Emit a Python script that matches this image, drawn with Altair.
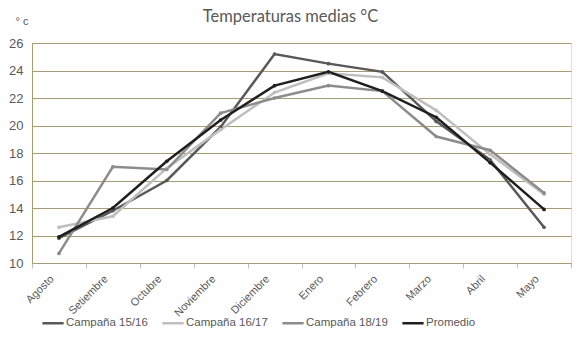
import altair as alt
import pandas as pd

meses = ["Agosto", "Setiembre", "Octubre", "Noviembre", "Diciembre",
         "Enero", "Febrero", "Marzo", "Abril", "Mayo"]
series = ["Campaña 15/16", "Campaña 16/17", "Campaña 18/19", "Promedio"]
c1516 = [11.8, 13.8, 16.0, 19.9, 25.2, 24.5, 23.9, 20.3, 17.5, 12.6]
c1617 = [12.6, 13.4, 16.9, 19.7, 22.4, 23.8, 23.5, 21.1, 17.9, 15.0]
c1819 = [10.7, 17.0, 16.8, 20.9, 22.0, 22.9, 22.5, 19.2, 18.2, 15.1]
prom = [11.9, 14.0, 17.4, 20.4, 22.9, 23.9, 22.5, 20.6, 17.3, 13.9]
colores = ["#595959", "#bfbfbf", "#8c8c8c", "#1f1f1f"]

rows = []
for s, vals in zip(series, [c1516, c1617, c1819, prom]):
    for m, v in zip(meses, vals):
        rows.append({"mes": m, "serie": s, "temp": v})
df = pd.DataFrame(rows)

grid = "#a99e6b"
txt = "#595959"

chart = alt.Chart(df).mark_line(
    strokeWidth=2.5,
    point=alt.OverlayMarkDef(size=14, filled=True)
).encode(
    x=alt.X("mes:N", sort=meses, bandPosition=0.5,
            scale=alt.Scale(type="band", paddingInner=0, paddingOuter=0),
            axis=alt.Axis(title=None, labelAngle=-45, labelAlign="right",
                          labelBaseline="middle", labelPadding=9,
                          labelOffset=-7,
                          tickBand="extent", ticks=True, tickSize=5,
                          tickColor="#bfbfbf", domainColor=grid,
                          labelColor=txt, labelFont="Liberation Sans",
                          labelFontSize=11, grid=False)),
    y=alt.Y("temp:Q",
            scale=alt.Scale(domain=[10, 26], nice=False, zero=False),
            axis=alt.Axis(values=list(range(10, 27, 2)), ticks=False,
                          labelPadding=9, labelColor=txt,
                          labelFont="Liberation Sans", labelFontSize=13,
                          gridColor=grid, gridWidth=1, domainColor=grid,
                          title="° c", titleAngle=0, titleX=-17, titleY=-22,
                          titleAlign="left", titleBaseline="middle",
                          titleFont="Liberation Sans", titleFontSize=11,
                          titleFontWeight="normal", titleColor=txt)),
    color=alt.Color("serie:N", sort=series,
                    scale=alt.Scale(domain=series, range=colores),
                    legend=alt.Legend(title=None, orient="none",
                                      direction="horizontal", columns=4,
                                      legendX=9, legendY=268,
                                      symbolType="stroke", symbolSize=450,
                                      symbolStrokeWidth=2.5, columnPadding=9,
                                      labelFont="Liberation Sans",
                                      labelFontSize=11.5, labelColor=txt,
                                      labelOffset=1)),
    order=alt.Order("serie:N")
).properties(
    width=539, height=220,
    title=alt.TitleParams("Temperaturas medias °C", anchor="middle",
                          font="Lato", fontSize=16.5, fontWeight="normal",
                          color=txt, offset=-10, dx=-11),
    padding={"left": 32, "top": 43, "right": 9, "bottom": 91},
    autosize=alt.AutoSizeParams(type="none")
).configure_view(stroke=None).configure(background="white")

chart.save("out.html", embed_options={"renderer": "svg", "actions": False})
